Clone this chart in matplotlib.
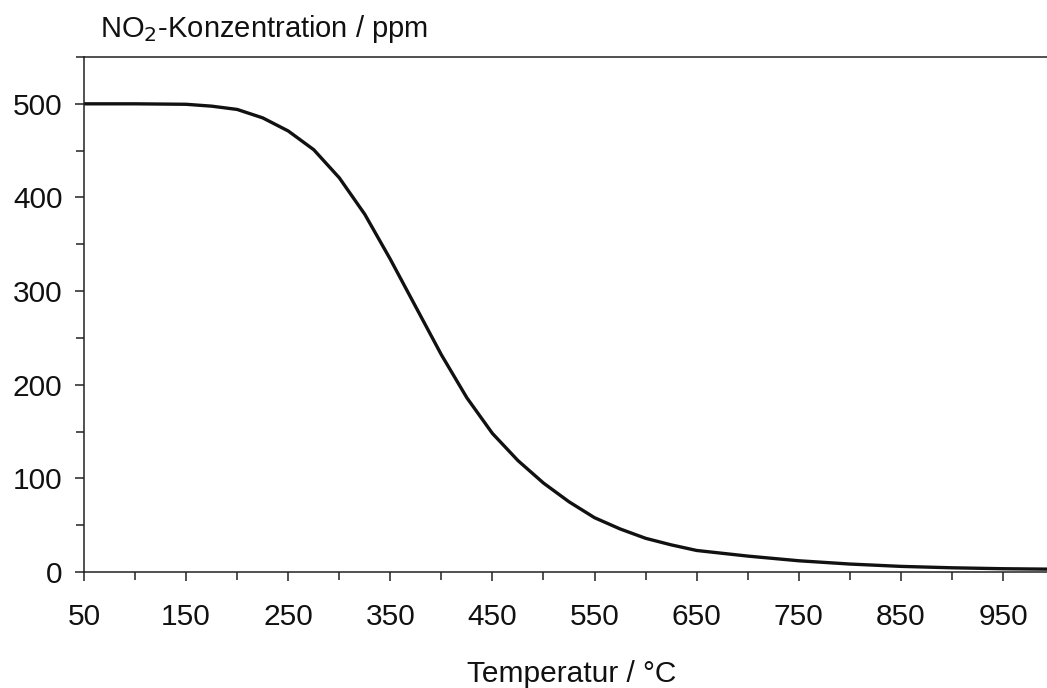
import numpy as np
import matplotlib
matplotlib.use("Agg")
import matplotlib.pyplot as plt
from matplotlib.ticker import MultipleLocator

plt.rcParams['font.family'] = ['Liberation Sans', 'DejaVu Sans']

# Temperatur / °C  und  NO2-Konzentration / ppm
temp = [50, 100, 150, 175, 200, 225, 250, 275, 300, 325, 350, 375, 400,
        425, 450, 475, 500, 525, 550, 575, 600, 625, 650, 700, 750, 800,
        850, 900, 950, 1000]
no2 = [500, 500, 499.5, 497.5, 494, 485, 471, 451, 421, 382, 334, 283, 232,
       186, 148, 119, 95, 75, 58, 46, 36, 29, 23, 17, 12, 8.5,
       6, 4.5, 3.5, 3]

xticks = [50, 150, 250, 350, 450, 550, 650, 750, 850, 950]
yticks = [0, 100, 200, 300, 400, 500]

fig = plt.figure(figsize=(10.47, 6.88), dpi=100)
ax = fig.add_axes([84/1047, 1-572/688, (1054-84)/1047, (572-57)/688])

ax.plot(temp, no2, color="#111111", lw=2.4, solid_capstyle="round",
        solid_joinstyle="round")

ax.set_xlim(50, 1000)
ax.set_ylim(0, 550)
ax.set_xticks(xticks)
ax.set_yticks(yticks)
ax.xaxis.set_minor_locator(MultipleLocator(50))
ax.yaxis.set_minor_locator(MultipleLocator(50))
ax.tick_params(which="both", direction="out", length=6.5, width=1.1, colors="#222222",
               labelsize=21.5, labelcolor="#111111")
ax.tick_params(axis="x", which="major", pad=16)
ax.tick_params(axis="y", which="major", pad=9)
ax.tick_params(which="minor", length=5.5)

for s in ax.spines.values():
    s.set_linewidth(1.1)
    s.set_color("#222222")

fig.text(100/1047, 1-37/688, r"NO$_2$-Konzentration / ppm", fontsize=21,
         ha="left", va="baseline", color="#111111")
fig.text(572/1047, 1-682/688, "Temperatur / °C", fontsize=21.5,
         ha="center", va="baseline", color="#111111")

fig.savefig("out.png", dpi=100)
